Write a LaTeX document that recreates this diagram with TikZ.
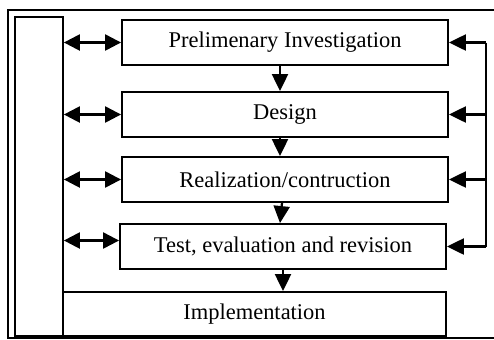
\documentclass[tikz,border=0pt]{standalone}
\usepackage{fontspec}
\setmainfont{Liberation Serif}
\usetikzlibrary{arrows.meta}
\begin{document}
\begin{tikzpicture}[x=0.02cm,y=-0.02cm,
  stage/.style={draw,line width=1.1pt,minimum width=6.52cm,minimum height=0.9cm,inner sep=0pt,font=\fontsize{12.8}{15}\selectfont},
  tip/.style={-{Triangle[length=0.34cm,width=0.32cm]},line width=1.3pt},
  tips/.style={{Triangle[length=0.32cm,width=0.32cm]}-{Triangle[length=0.32cm,width=0.32cm]},line width=1.3pt}]
\useasboundingbox (0,0) rectangle (494,339);
\draw[line width=0.9pt] (494,10)--(8,10)--(8,338)--(494,338);
\node[draw,line width=1pt,minimum width=0.96cm,minimum height=6.38cm,inner sep=0pt] (col) at (39,176.5) {};
\node[stage] (pi) at (285,42.5) {Prelimenary Investigation};
\node[stage] (des) at (285,114.5) {Design};
\node[stage] (real) at (285,179.5) {Realization/contruction};
\node[stage] (test) at (283,246.5) {Test, evaluation and revision};
\node[stage,minimum width=7.66cm,minimum height=0.88cm] (impl) at (254.5,314) {Implementation};
\coordinate (fb) at (486,0);
\draw[tip] ([xshift=-0.1cm]pi.south) -- ([xshift=-0.1cm]des.north);
\draw[tip] ([xshift=-0.1cm]des.south) -- ([xshift=-0.1cm]real.north);
\draw[tip] ([xshift=-0.06cm]real.south) -- ([xshift=-0.06cm]test.north);
\draw[tip] (test.south) -- (test.south |- impl.north);
\foreach \s in {pi,des,real}{
  \draw[tips] (col.east |- \s.west) -- (\s.west);
}
\draw[tips] ([yshift=0.12cm]col.east |- test.west) -- ([yshift=0.12cm]test.west);
\draw[line width=1.1pt] (pi.east -| fb) -- (test.east -| fb);
\foreach \s in {pi,des,real,test}{
  \draw[tip] (\s.east -| fb) -- (\s.east);
}
\end{tikzpicture}
\end{document}
